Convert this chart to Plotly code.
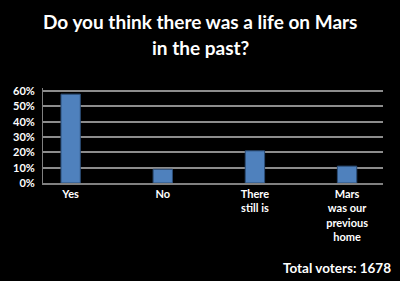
import plotly.graph_objects as go

categories = ["Yes", "No", "There<br>still is", "Mars<br>was our<br>previous<br>home"]
values = [58, 9, 21, 11]
tick_vals = [0, 10, 20, 30, 40, 50, 60]
tick_text = ["0%", "10%", "20%", "30%", "40%", "50%", "60%"]
title_lines = ["Do you think there was a life on Mars", "in the past?"]

fig = go.Figure()
fig.add_trace(go.Bar(
    x=list(range(len(categories))), y=values,
    width=0.21,
    marker=dict(color="#4F81BD", line=dict(color="#2C4D75", width=1)),
))

fig.update_layout(
    width=400, height=281,
    paper_bgcolor="black", plot_bgcolor="black",
    margin=dict(l=43, r=17, t=88, b=98),
    showlegend=False,
    font=dict(family="Lato", color="white"),
)
fig.update_xaxes(
    range=[-0.3, 3.39],
    tickvals=list(range(len(categories))), ticktext=categories,
    tickfont=dict(family="Lato", size=11, color="white", weight="bold"),
    showgrid=False, zeroline=False, showline=True, linecolor="#808080", linewidth=1.5,
    ticks="",
)
fig.update_yaxes(
    range=[0, 62],
    tickvals=tick_vals, ticktext=tick_text,
    tickfont=dict(family="Lato", size=11, color="white", weight="bold"),
    ticklabelstandoff=5,
    showgrid=True, gridcolor="#8c8c8c", gridwidth=1.5,
    zeroline=False, showline=True, linecolor="#808080", linewidth=1,
    ticks="",
)
for line, ypos in zip(title_lines, [1.695, 1.43]):
    fig.add_annotation(
        text=line, xref="paper", yref="paper",
        x=(200 - 43) / 340, y=ypos, xanchor="center", yanchor="middle", showarrow=False,
        font=dict(family="Lato", size=19, color="white", weight="bold"),
    )
fig.add_annotation(
    text="Total voters: 1678", xref="paper", yref="paper",
    x=1.03, y=-0.895, xanchor="right", yanchor="middle", showarrow=False,
    font=dict(family="Lato", size=13.5, color="white", weight="bold"),
)
fig.write_html("out.html")
